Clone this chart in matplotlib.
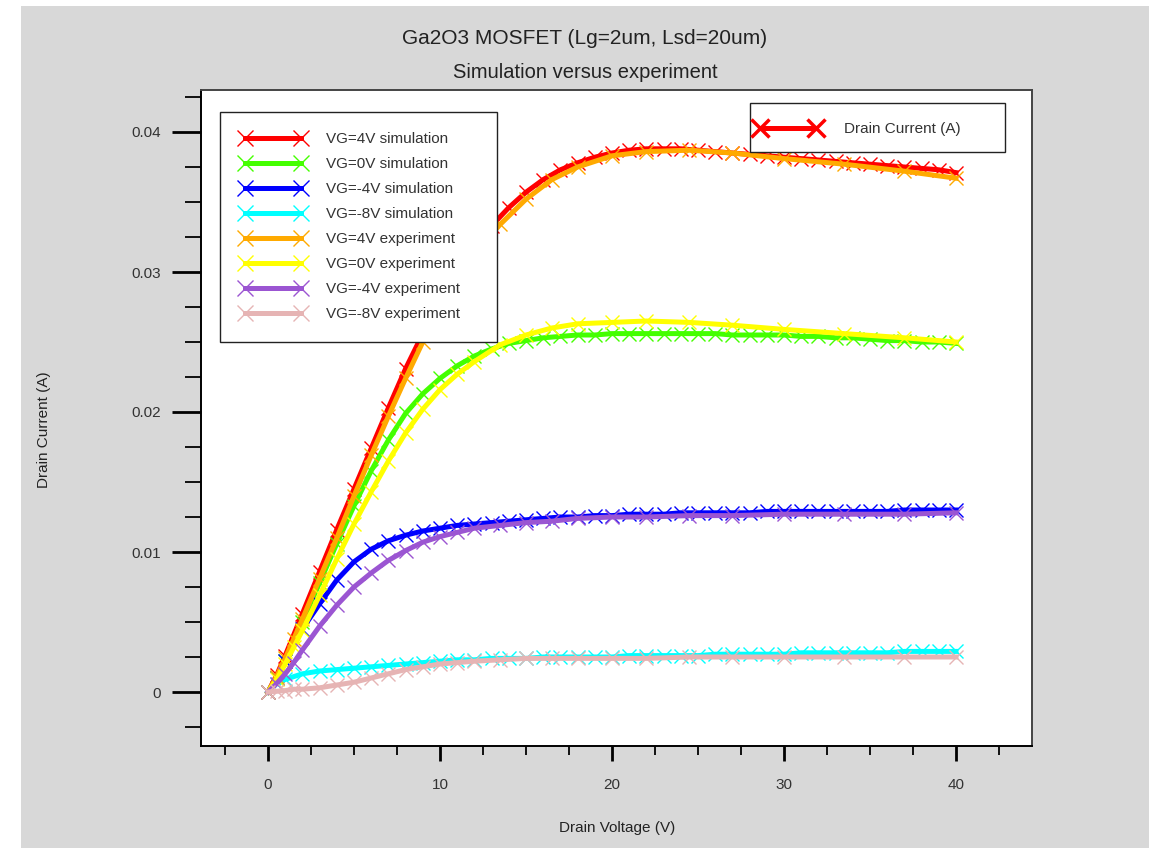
import matplotlib
matplotlib.use("Agg")
import matplotlib.pyplot as plt
from matplotlib.patches import Rectangle
from matplotlib.lines import Line2D
from matplotlib.ticker import FixedLocator

plt.rcParams['font.family'] = ['Liberation Sans', 'DejaVu Sans']

# ---------------- data ----------------
v_sim = [0, 0.5, 1, 2, 3, 4, 5, 6, 7, 8, 9, 10, 11, 12, 13, 14, 15, 16, 17, 18, 19, 20,
         21, 22, 23, 24, 25, 26, 27, 28, 29, 30, 31, 32, 33, 34, 35, 36, 37, 38, 39, 40]
i_sim_vg4 = [0, 0.0012, 0.0026, 0.0056, 0.0086, 0.0116, 0.0145, 0.0174, 0.0203, 0.0231, 0.0256,
             0.0279, 0.0300, 0.0318, 0.0333, 0.0346, 0.0357, 0.0366, 0.0373, 0.0378, 0.0382,
             0.0385, 0.0387, 0.0388, 0.0388, 0.0388, 0.0387, 0.0386, 0.0385, 0.0384, 0.0383,
             0.0382, 0.0381, 0.0380, 0.0379, 0.0378, 0.0377, 0.0376, 0.0375, 0.0374, 0.0373, 0.0371]
i_sim_vg0 = [0, 0.0010, 0.0022, 0.0050, 0.0078, 0.0106, 0.0133, 0.0158, 0.0180, 0.0199, 0.0213,
             0.0224, 0.0233, 0.0240, 0.0245, 0.0249, 0.0251, 0.0253, 0.0254, 0.0255, 0.0255,
             0.0256, 0.0256, 0.0256, 0.0256, 0.0256, 0.0256, 0.0256, 0.0255, 0.0255, 0.0255,
             0.0255, 0.0254, 0.0254, 0.0253, 0.0253, 0.0252, 0.0251, 0.0251, 0.0250, 0.0250, 0.0249]
i_sim_vgm4 = [0, 0.0010, 0.0022, 0.0045, 0.0063, 0.0080, 0.0093, 0.0102, 0.0108, 0.0112, 0.0115,
              0.0117, 0.0119, 0.0120, 0.0121, 0.0122, 0.0123, 0.0124, 0.0125, 0.0125, 0.0126,
              0.0126, 0.0127, 0.0127, 0.0127, 0.0128, 0.0128, 0.0128, 0.0128, 0.0128, 0.0129,
              0.0129, 0.0129, 0.0129, 0.0129, 0.0129, 0.0129, 0.0129, 0.0130, 0.0130, 0.0130, 0.0130]
i_sim_vgm8 = [0, 0.0006, 0.0009, 0.0013, 0.0015, 0.0016, 0.0017, 0.0018, 0.0019, 0.0020, 0.0021,
              0.0022, 0.0023, 0.0023, 0.0024, 0.0024, 0.0024, 0.0025, 0.0025, 0.0025, 0.0025,
              0.0025, 0.0026, 0.0026, 0.0026, 0.0026, 0.0026, 0.0027, 0.0027, 0.0027, 0.0027,
              0.0027, 0.0028, 0.0028, 0.0028, 0.0028, 0.0028, 0.0028, 0.0029, 0.0029, 0.0029, 0.0029]

v_exp = [0, 0.5, 1, 1.5, 2, 3, 4, 5, 6, 7, 8, 9, 10, 11, 12, 13.5, 15, 16.5, 18, 20, 22,
         24.5, 27, 30, 33.5, 37, 40]
i_exp_vg4 = [0, 0.0011, 0.0024, 0.0038, 0.0052, 0.0081, 0.0110, 0.0140, 0.0169, 0.0197, 0.0224,
             0.0250, 0.0273, 0.0294, 0.0313, 0.0334, 0.0352, 0.0366, 0.0375, 0.0383, 0.0386,
             0.0387, 0.0385, 0.0381, 0.0377, 0.0372, 0.0367]
i_exp_vg0 = [0, 0.0009, 0.0020, 0.0032, 0.0044, 0.0069, 0.0095, 0.0120, 0.0143, 0.0165, 0.0185,
             0.0202, 0.0216, 0.0227, 0.0236, 0.0248, 0.0255, 0.0260, 0.0263, 0.0264, 0.0265,
             0.0264, 0.0262, 0.0259, 0.0256, 0.0253, 0.0250]
i_exp_vgm4 = [0, 0.0006, 0.0013, 0.0021, 0.0030, 0.0047, 0.0062, 0.0075, 0.0085, 0.0094, 0.0101,
              0.0107, 0.0111, 0.0114, 0.0117, 0.0119, 0.0121, 0.0122, 0.0124, 0.0125, 0.0125,
              0.0126, 0.0126, 0.0127, 0.0127, 0.0127, 0.0128]
i_exp_vgm8 = [0, 0.00005, 0.0001, 0.0002, 0.0002, 0.0003, 0.0005, 0.0007, 0.0010, 0.0013, 0.0016,
              0.0018, 0.0020, 0.0021, 0.0022, 0.0023, 0.0024, 0.0024, 0.0024, 0.0024, 0.0024,
              0.0025, 0.0025, 0.0025, 0.0025, 0.0025, 0.0025]

sim_labels = ["VG=4V simulation", "VG=0V simulation", "VG=-4V simulation", "VG=-8V simulation"]
exp_labels = ["VG=4V experiment", "VG=0V experiment", "VG=-4V experiment", "VG=-8V experiment"]
sim_colors = ["#ff0000", "#44ff00", "#0000ff", "#00ffff"]
exp_colors = ["#ffaa00", "#ffff00", "#9b55d2", "#e6b4b4"]

x_major = [0, 10, 20, 30, 40]
y_major = [0, 0.01, 0.02, 0.03, 0.04]
y_major_labels = ["0", "0.01", "0.02", "0.03", "0.04"]

# ---------------- figure ----------------
W, H = 1149, 848
fig = plt.figure(figsize=(W / 100, H / 100), dpi=100, facecolor="white")
fig.patches.append(Rectangle((21 / W, 0), 1 - 21 / W, (H - 6) / H, transform=fig.transFigure,
                             facecolor="#d8d8d8", edgecolor="none", zorder=-10))

AX_L, AX_R, AX_T, AX_B = 201, 1032, 90, 746
ax = fig.add_axes([AX_L / W, (H - AX_B) / H, (AX_R - AX_L) / W, (AX_B - AX_T) / H])
ax.set_facecolor("white")


def ax_xy(px, py):
    """pixel position (from top-left of figure) -> axes fraction"""
    return (px - AX_L) / (AX_R - AX_L), (AX_B - py) / (AX_B - AX_T)


lw = 3.6
ms = 10
handles = []
for v, i, c, lab in zip([v_sim] * 4, [i_sim_vg4, i_sim_vg0, i_sim_vgm4, i_sim_vgm8], sim_colors, sim_labels):
    h, = ax.plot(v, i, color=c, lw=lw, marker="x", ms=ms, mew=1.0, label=lab, zorder=3)
    handles.append(h)
for v, i, c, lab in zip([v_exp] * 4, [i_exp_vg4, i_exp_vg0, i_exp_vgm4, i_exp_vgm8], exp_colors, exp_labels):
    h, = ax.plot(v, i, color=c, lw=lw, marker="x", ms=ms, mew=1.0, label=lab, zorder=4)
    handles.append(h)

ax.set_xlim((AX_L - 268) / 17.2, (AX_R - 268) / 17.2)
ax.set_ylim((692 - AX_B) / 14000, (692 - AX_T) / 14000)

ax.xaxis.set_major_locator(FixedLocator(x_major))
ax.xaxis.set_minor_locator(FixedLocator([-2.5, 2.5, 5, 7.5, 12.5, 15, 17.5, 22.5, 25, 27.5,
                                         32.5, 35, 37.5, 42.5]))
ax.yaxis.set_major_locator(FixedLocator(y_major))
ax.yaxis.set_minor_locator(FixedLocator([-0.0025, 0.0025, 0.005, 0.0075, 0.0125, 0.015, 0.0175,
                                         0.0225, 0.025, 0.0275, 0.0325, 0.035, 0.0375, 0.0425]))
ax.set_xticklabels([str(x) for x in x_major])
ax.set_yticklabels(y_major_labels)

ax.tick_params(axis="y", which="major", direction="out", length=21, width=2, pad=8,
               labelsize=11, labelcolor="#333333", color="black")
ax.tick_params(axis="y", which="minor", direction="out", length=11.5, width=1.3, color="black")
ax.tick_params(axis="x", which="major", direction="out", length=11, width=2, pad=12,
               labelsize=11, labelcolor="#333333", color="black")
ax.tick_params(axis="x", which="minor", direction="out", length=6.5, width=1.3, color="black")

for s in ["left", "bottom"]:
    ax.spines[s].set_color("black")
    ax.spines[s].set_linewidth(1.4)
for s in ["top", "right"]:
    ax.spines[s].set_color("#444444")
    ax.spines[s].set_linewidth(1.4)

fig.text(585 / W, 1 - 38 / H, "Ga2O3 MOSFET (Lg=2um, Lsd=20um)", ha="center", va="center",
         fontsize=15, color="#222222")
fig.text(585 / W, 1 - 72 / H, "Simulation versus experiment", ha="center", va="center",
         fontsize=14.5, color="#222222")
fig.text(617 / W, 1 - 828 / H, "Drain Voltage (V)", ha="center", va="center",
         fontsize=11, color="#222222")
fig.text(44 / W, 1 - 430 / H, "Drain Current (A)", ha="center", va="center", rotation=90,
         fontsize=11, color="#222222")

# legend 1 (upper left), expanded to the reference box width
x0, y1 = ax_xy(220, 112)
x1, y0 = ax_xy(497, 338)
leg1 = ax.legend(handles=handles, loc="upper left",
                 bbox_to_anchor=(x0, y0, x1 - x0, y1 - y0), mode="expand",
                 fontsize=11, handlelength=4.3, handletextpad=1.33, labelspacing=0.72,
                 borderpad=1.33, borderaxespad=0, frameon=True, fancybox=False,
                 edgecolor="#222222", framealpha=1, numpoints=2, markerscale=1.1)
leg1.get_frame().set_linewidth(1.0)
for t in leg1.get_texts():
    t.set_color("#333333")
ax.add_artist(leg1)

# legend 2 (upper right) with its own frame rectangle
bx0, by1 = ax_xy(750, 103)
bx1, by0 = ax_xy(1005, 152)
ax.add_patch(Rectangle((bx0, by0), bx1 - bx0, by1 - by0, transform=ax.transAxes,
                       facecolor="white", edgecolor="#222222", lw=1.0, zorder=6))
dc = Line2D([], [], color="#ff0000", lw=3.6, marker="x", ms=13, mew=2.5)
lx, ly = ax_xy(750, 129)
leg2 = ax.legend(handles=[dc], labels=["Drain Current (A)"], loc="center left",
                 bbox_to_anchor=(lx, ly), fontsize=11, handlelength=4.3,
                 handletextpad=1.5, borderpad=0.35, borderaxespad=0, frameon=False,
                 numpoints=2)
leg2.set_zorder(7)
for t in leg2.get_texts():
    t.set_color("#333333")

fig.savefig("out.png", dpi=100, facecolor=fig.get_facecolor())
